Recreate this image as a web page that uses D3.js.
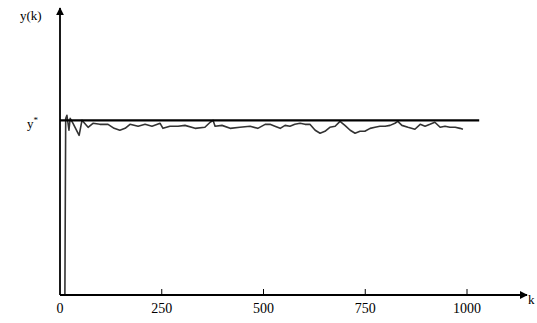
<!DOCTYPE html>
<html>
<head>
<meta charset="utf-8">
<script src="https://cdn.jsdelivr.net/npm/d3@7"></script>
<style>
  body { margin: 0; background: #fff; }
  svg { display: block; }
</style>
</head>
<body>
<div class="chart"></div>
<script>
// step index k and output y(k)
var kSteps = [12, 14, 17, 22, 25, 32, 47, 54, 69, 81, 98, 118, 133, 147, 160, 172, 192, 209, 226,
  246, 253, 270, 290, 307, 332, 356, 369, 376, 381, 398, 418, 442, 467, 486, 504, 516, 528,
  541, 553, 565, 577, 590, 602, 614, 627, 639, 651, 663, 676, 688, 700, 713, 725, 737, 749,
  762, 774, 786, 799, 811, 823, 830, 840, 855, 872, 885, 897, 909, 921, 934, 946, 958, 971, 983, 990];
var yValues = [0, 1.01, 1.029, 0.943, 1.011, 0.983, 0.914, 1.0, 0.96, 0.983, 0.977, 0.977, 0.954, 0.943, 0.954, 0.977, 0.966, 0.977, 0.966,
  0.983, 0.954, 0.966, 0.966, 0.971, 0.954, 0.96, 0.989, 1.0, 0.966, 0.971, 0.954, 0.96, 0.966, 0.954, 0.977, 0.977, 0.966,
  0.954, 0.971, 0.966, 0.977, 0.983, 0.977, 0.977, 0.943, 0.926, 0.937, 0.96, 0.966, 0.994, 0.971, 0.943, 0.926, 0.937, 0.937,
  0.954, 0.96, 0.966, 0.966, 0.971, 0.983, 0.994, 0.971, 0.96, 0.949, 0.977, 0.966, 0.977, 0.989, 0.96, 0.966, 0.96, 0.96, 0.954, 0.949];
var setpoint = 1;       // y*
var setpointEnd = 1030; // reference line runs a bit past the last step
var xTicks = [0, 250, 500, 750, 1000];

var width = 537, height = 323;

var x = d3.scaleLinear().domain([0, 1000]).range([60, 467]);
var y = d3.scaleLinear().domain([0, 1.62]).range([295, 12]);

const svg = d3.select(".chart").append("svg")
  .attr("width", width)
  .attr("height", height)
  .attr("font-family", "'Liberation Serif', 'DejaVu Serif', serif");

svg.append("defs").append("marker")
  .attr("id", "arrow")
  .attr("viewBox", "0 0 10 10")
  .attr("refX", 9).attr("refY", 5)
  .attr("markerWidth", 8).attr("markerHeight", 8)
  .attr("markerUnits", "userSpaceOnUse")
  .attr("orient", "auto")
  .append("path")
  .attr("d", "M0,0 L10,5 L0,10 Z")
  .attr("fill", "#000");

// series
var line = d3.line()
  .x((d, i) => x(kSteps[i]))
  .y(d => y(d));

svg.append("path")
  .datum(yValues)
  .attr("fill", "none")
  .attr("stroke", "#333")
  .attr("stroke-width", 1.6)
  .attr("stroke-linejoin", "round")
  .attr("d", line);

// reference y*
svg.append("line")
  .attr("x1", x(0)).attr("x2", x(setpointEnd))
  .attr("y1", y(setpoint)).attr("y2", y(setpoint))
  .attr("stroke", "#000")
  .attr("stroke-width", 2.2);

// axes
svg.append("line")
  .attr("x1", x(0)).attr("y1", y(0))
  .attr("x2", 527).attr("y2", y(0))
  .attr("stroke", "#000").attr("stroke-width", 1.8)
  .attr("marker-end", "url(#arrow)");

svg.append("line")
  .attr("x1", x(0)).attr("y1", y(0))
  .attr("x2", x(0)).attr("y2", 8)
  .attr("stroke", "#000").attr("stroke-width", 1.8)
  .attr("marker-end", "url(#arrow)");

// ticks
svg.append("g")
  .selectAll("line")
  .data(xTicks.slice(1))
  .join("line")
  .attr("x1", d => x(d)).attr("x2", d => x(d))
  .attr("y1", y(0)).attr("y2", y(0) - 6)
  .attr("stroke", "#000").attr("stroke-width", 1);

svg.append("g")
  .attr("font-size", 14)
  .attr("text-anchor", "middle")
  .selectAll("text")
  .data(xTicks)
  .join("text")
  .attr("x", d => x(d))
  .attr("y", 313)
  .text(d => d);

// labels
svg.append("text")
  .attr("x", 20).attr("y", 20)
  .attr("font-size", 13)
  .text("y(k)");

svg.append("text")
  .attr("x", 27).attr("y", 128)
  .attr("font-size", 13)
  .html("y<tspan font-size='9' dy='-5'>*</tspan>");

svg.append("text")
  .attr("x", 528).attr("y", 304)
  .attr("font-size", 13)
  .text("k");
</script>
</body>
</html>
